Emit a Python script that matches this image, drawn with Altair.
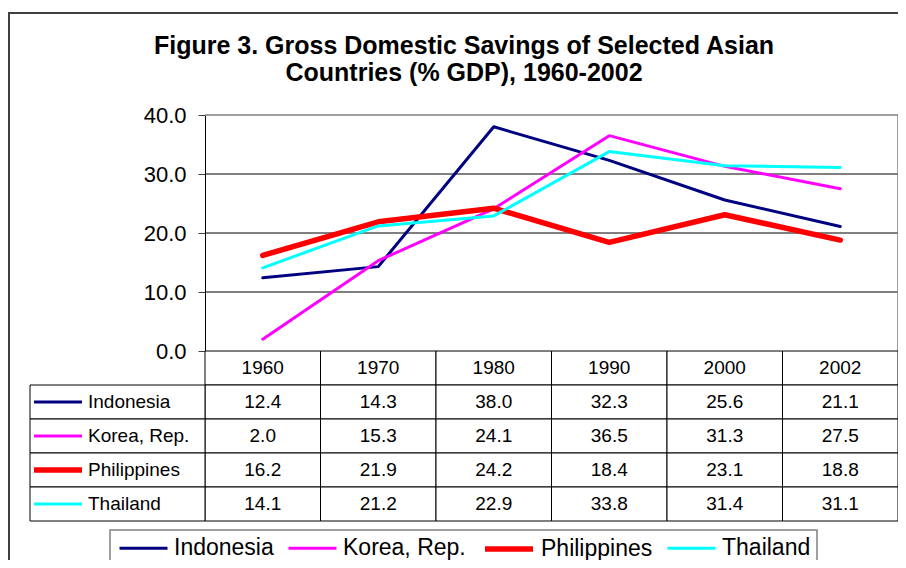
import altair as alt
import pandas as pd

years = ["1960", "1970", "1980", "1990", "2000", "2002"]
countries = ["Indonesia", "Korea, Rep.", "Philippines", "Thailand"]
indonesia = [12.4, 14.3, 38.0, 32.3, 25.6, 21.1]
korea = [2.0, 15.3, 24.1, 36.5, 31.3, 27.5]
philippines = [16.2, 21.9, 24.2, 18.4, 23.1, 18.8]
thailand = [14.1, 21.2, 22.9, 33.8, 31.4, 31.1]
y_ticks = [0, 10, 20, 30, 40]
grid_black = [10, 20, 30]
grid_gray = [40]
colors = ["#000080", "#FF00FF", "#FF0000", "#00FFFF"]
widths = [3, 3, 5.5, 3]

series = dict(zip(countries, [indonesia, korea, philippines, thailand]))
df = pd.DataFrame(
    [{"country": c, "year": y, "value": v} for c in countries for y, v in zip(years, series[c])]
)

row_domain = ["Year"] + countries
cells = []
for r in row_domain:
    for i, y in enumerate(years):
        txt = y if r == "Year" else f"{series[r][i]:.1f}"
        cells.append({"row": r, "year": y, "text": txt})
cells = pd.DataFrame(cells)
labels = pd.DataFrame({"country": countries})
grid_b = pd.DataFrame({"v": grid_black})
grid_g = pd.DataFrame({"v": grid_gray})
one = pd.DataFrame({"a": [0]})

FONT = "Liberation Sans"
W = 868
H = 406
PLOT_H = 236
LABEL_W = 175

xscale = alt.Scale(type="band", domain=years, range=[LABEL_W, W], paddingInner=0, paddingOuter=0)
yscale = alt.Scale(domain=[0, 40], range=[PLOT_H, 0])
rscale = alt.Scale(type="band", domain=row_domain, range=[PLOT_H, H], paddingInner=0, paddingOuter=0)

leg = alt.Legend(
    orient="none", legendX=88, legendY=407, direction="horizontal", title=None,
    symbolType="stroke", symbolSize=2304, labelFontSize=23, labelFont=FONT,
    labelColor="black", padding=0, columnPadding=8, labelOffset=5,
)
color = alt.Color("country:N", scale=alt.Scale(domain=countries, range=colors), legend=leg)
sw = alt.StrokeWidth("country:N", scale=alt.Scale(type="ordinal", domain=countries, range=widths), legend=leg)

frame = alt.Chart(one).mark_rect(filled=False, stroke="#404040", strokeWidth=2).encode(
    x=alt.value(-21), x2=alt.value(W + 40), y=alt.value(-102), y2=alt.value(H + 100)
)

legend_box = alt.Chart(one).mark_rect(filled=False, stroke="#808080", strokeWidth=1.5).encode(
    x=alt.value(80), x2=alt.value(787), y=alt.value(415), y2=alt.value(H + 80)
)

gridlines_b = alt.Chart(grid_b).mark_rule(strokeWidth=1, color="black").encode(
    y=alt.Y("v:Q", scale=yscale, axis=None),
    x=alt.value(LABEL_W), x2=alt.value(W),
)
gridlines_g = alt.Chart(grid_g).mark_rule(strokeWidth=1.5, color="#808080").encode(
    y=alt.Y("v:Q", scale=yscale, axis=None),
    x=alt.value(LABEL_W), x2=alt.value(W),
)

right_border = alt.Chart(one).mark_rule(color="#808080", strokeWidth=1.5).encode(
    x=alt.value(W), y=alt.value(0), y2=alt.value(PLOT_H)
)

cell_rects = alt.Chart(cells).mark_rect(fill="white", stroke="black", strokeWidth=1).encode(
    x=alt.X("year:N", scale=xscale, axis=None),
    y=alt.Y("row:N", scale=rscale, axis=None),
)

label_rects = alt.Chart(labels).mark_rect(fill="white", stroke="black", strokeWidth=1).encode(
    x=alt.value(0), x2=alt.value(LABEL_W),
    y=alt.Y("country:N", scale=rscale, axis=None),
)

cell_text = alt.Chart(cells).mark_text(font=FONT, fontSize=19, color="black", align="center", baseline="middle").encode(
    x=alt.X("year:N", scale=xscale, axis=None, bandPosition=0.5),
    y=alt.Y("row:N", scale=rscale, axis=None, bandPosition=0.5),
    text="text:N",
)

label_text = alt.Chart(labels).mark_text(font=FONT, fontSize=19, color="black", align="left", baseline="middle").encode(
    x=alt.value(58),
    y=alt.Y("country:N", scale=rscale, axis=None, bandPosition=0.5),
    text="country:N",
)

swatches = alt.Chart(labels).mark_rule().encode(
    x=alt.value(4), x2=alt.value(52),
    y=alt.Y("country:N", scale=rscale, axis=None, bandPosition=0.5),
    color=color, strokeWidth=sw,
)

lines = alt.Chart(df).mark_line(strokeCap="round", strokeJoin="round").encode(
    x=alt.X("year:N", scale=xscale, axis=None, bandPosition=0.5),
    y=alt.Y("value:Q", scale=yscale, axis=alt.Axis(
        values=y_ticks, format=".1f", offset=-LABEL_W, grid=False, title=None,
        labelFont=FONT, labelFontSize=22, labelColor="black", labelPadding=12,
        tickSize=7, tickColor="#404040", domainColor="black", domainWidth=1,
    )),
    color=color, strokeWidth=sw,
)

chart = alt.layer(
    frame, legend_box, gridlines_b, gridlines_g, right_border, cell_rects, label_rects,
    cell_text, label_text, swatches, lines
).resolve_scale(y="independent").properties(
    width=W, height=H,
    padding={"left": 22, "top": 107, "right": 0, "bottom": 39},
    autosize=alt.AutoSizeParams(type="none"),
    title=alt.Title(
        ["Figure 3. Gross Domestic Savings of Selected Asian", "Countries (% GDP), 1960-2002"],
        font=FONT, fontSize=25, fontWeight="bold", color="black", anchor="middle",
        frame="group", offset=0, dy=74, lineHeight=27,
    ),
).configure_view(strokeWidth=0)

chart.save("out.html", embed_options={"renderer": "svg", "actions": False})
